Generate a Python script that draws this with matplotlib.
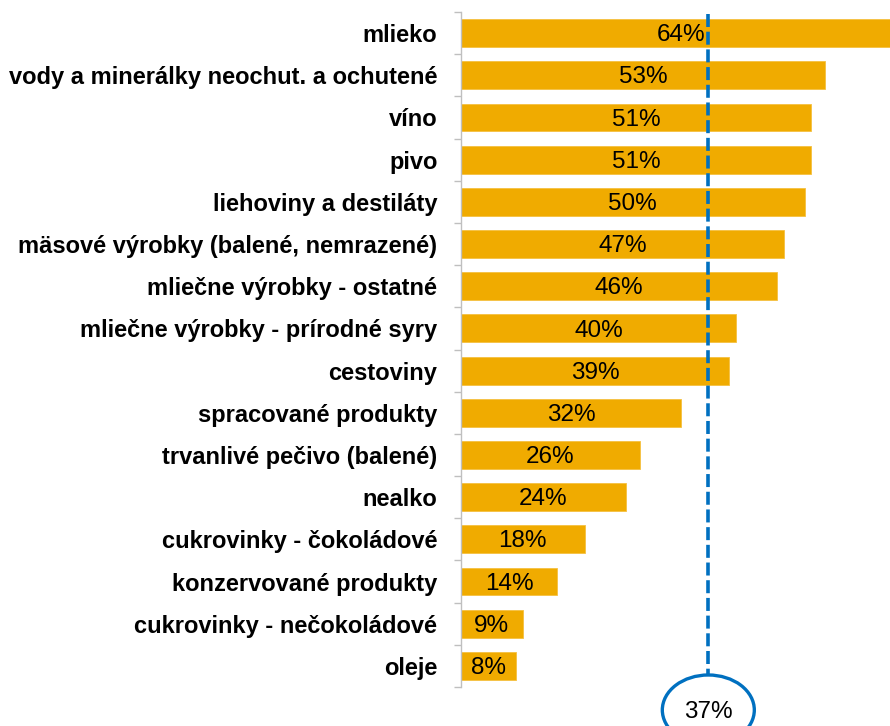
import numpy as np
import matplotlib.pyplot as plt
from matplotlib.patches import Ellipse

plt.rcParams['font.family'] = ['Liberation Sans', 'DejaVu Sans']

# data (top to bottom)
categories = [
    'mlieko',
    'vody a minerálky neochut. a ochutené',
    'víno',
    'pivo',
    'liehoviny a destiláty',
    'mäsové výrobky (balené, nemrazené)',
    'mliečne výrobky - ostatné',
    'mliečne výrobky - prírodné syry',
    'cestoviny',
    'spracované produkty',
    'trvanlivé pečivo (balené)',
    'nealko',
    'cukrovinky - čokoládové',
    'konzervované produkty',
    'cukrovinky - nečokoládové',
    'oleje',
]
values = [64, 53, 51, 51, 50, 47, 46, 40, 39, 32, 26, 24, 18, 14, 9, 8]
avg_label = '37%'
avg_line_pos = 36  # where the dashed line sits in the picture

bar_color = '#F0AB00'
blue = '#0070C0'

W, H = 890, 726
fig = plt.figure(figsize=(W / 100, H / 100), dpi=100)
ax = fig.add_axes([461 / W, 1 - 687 / H, (W - 461) / W, (687 - 12) / H])

y = np.arange(len(categories))
ax.barh(y, values, height=0.66, color=bar_color, edgecolor='#F5C040', linewidth=0.6)

for yi, v in zip(y, values):
    ax.text(v / 2, yi + 0.05, f'{v}%', ha='center', va='center', fontsize=17.5, color='black')

ax.set_xlim(0, (W - 461) / 6.87)
ax.set_ylim(len(categories) - 0.5, -0.5)

ax.set_yticks(y)
ax.set_yticklabels(categories, fontsize=17, fontweight='bold')
ax.tick_params(axis='y', which='major', length=0, pad=17)
ax.set_yticks(np.arange(-0.5, len(categories)), minor=True)
ax.tick_params(axis='y', which='minor', length=5, color='#BFBFBF', width=1)
ax.set_xticks([])

for s in ['top', 'right', 'bottom']:
    ax.spines[s].set_visible(False)
ax.spines['left'].set_color('#BFBFBF')
ax.spines['left'].set_linewidth(1)

# average line and bubble
x_fig = ax.transData.transform((avg_line_pos, 0))[0] / W
fig.add_artist(plt.Line2D([x_fig, x_fig], [1 - 14 / H, 1 - 675 / H], color=blue,
                          linewidth=2.6, linestyle=(0, (3.6, 1.3))))
fig.add_artist(Ellipse((x_fig, 1 - 710 / H), 92 / W, 70 / H, fill=False,
                       edgecolor=blue, linewidth=2.4))
fig.text(x_fig, 1 - 712 / H, avg_label, ha='center', va='center', fontsize=17.5)

fig.savefig('out.png', dpi=100)
